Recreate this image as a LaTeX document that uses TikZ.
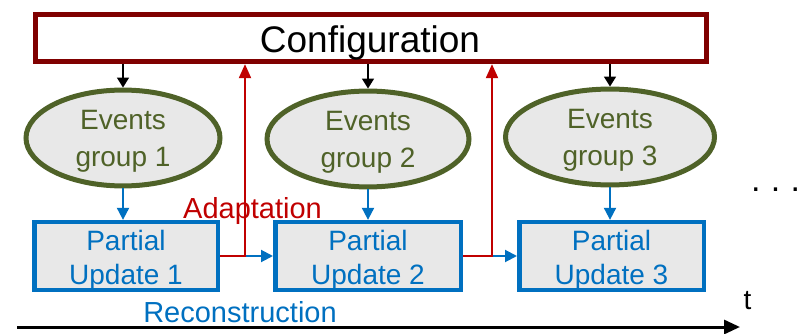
\documentclass[tikz,border=0pt]{standalone}
\usepackage{fontspec}
\setmainfont{Liberation Sans}
\usetikzlibrary{arrows.meta,shapes.geometric}
\definecolor{confred}{RGB}{128,0,0}
\definecolor{adred}{RGB}{192,0,0}
\definecolor{olivegr}{RGB}{79,98,40}
\definecolor{boxblue}{RGB}{0,112,192}
\definecolor{lgray}{RGB}{232,232,232}
\newcommand{\evstrut}{\rule{0pt}{25pt}}
\newcommand{\pustrut}{\rule{0pt}{28pt}}
\tikzset{
  confbox/.style={draw=confred,line width=4.8pt,fill=white,rectangle,inner sep=0pt},
  evell/.style={draw=olivegr,line width=5pt,fill=lgray,ellipse,inner sep=0pt,text=olivegr,align=center,font=\fontsize{28}{37}\selectfont},
  pubox/.style={draw=boxblue,line width=4.5pt,fill=lgray,rectangle,inner sep=0pt,text=boxblue,align=center,font=\fontsize{28}{34}\selectfont},
  blkarr/.style={black,line width=1.6pt,-{Triangle[width=12pt,length=10pt]}},
  bluarr/.style={boxblue,line width=2pt,-{Triangle[width=12pt,length=12pt]}},
  redarr/.style={adred,line width=2pt,-{Triangle[width=12pt,length=14pt]}},
}
\begin{document}
\begin{tikzpicture}[x=1pt,y=-1pt]
\useasboundingbox (0,0) rectangle (800,334);
% configuration
\node[confbox,minimum width=671.5pt,minimum height=47.5pt] (conf) at (371,38) {};
\node[font=\fontsize{37}{40}\selectfont,anchor=base] (conftxt) at (370,53) {Configuration};
% ellipses
\node[evell,minimum width=194pt,minimum height=94pt] (e1) at (123,138) {\evstrut Events\\group 1};
\node[evell,minimum width=202pt,minimum height=93pt] (e2) at (368,139) {\evstrut Events\\group 2};
\node[evell,minimum width=209pt,minimum height=92pt] (e3) at (610,137) {\evstrut Events\\group 3};
% boxes
\node[pubox,minimum width=183.5pt,minimum height=63.5pt] (b1) at (126,256) {\pustrut Partial\\Update 1};
\node[pubox,minimum width=185.5pt,minimum height=63.5pt] (b2) at (368,256) {\pustrut Partial\\Update 2};
\node[pubox,minimum width=184.5pt,minimum height=63.5pt] (b3) at (611.5,256) {\pustrut Partial\\Update 3};
% config -> ellipses
\draw[blkarr] (conf.south -| e1.north) -- (e1.north);
\draw[blkarr] (conf.south -| e2.north) -- (e2.north);
\draw[blkarr] (conf.south -| e3.north) -- (e3.north);
% ellipses -> boxes
\draw[bluarr] (e1.south) -- (e1.south |- b1.north);
\draw[bluarr] (e2.south) -- (e2.south |- b2.north);
\draw[bluarr] (e3.south) -- (e3.south |- b3.north);
% box -> box
\draw[bluarr] (b1.east) -- (b2.west);
\draw[bluarr] (b2.east) -- (b3.west);
% adaptation feedback
\coordinate (r1) at (245,256);
\coordinate (r2) at (492,256);
\draw[redarr] (b1.east) -- (r1) -- (r1 |- conf.south);
\draw[redarr] (b2.east) -- (r2) -- (r2 |- conf.south);
\node[text=adred,font=\fontsize{29}{32}\selectfont,anchor=base] (adapt) at (252.5,218) {Adaptation};
% time axis
\coordinate (ax0) at (17,327);
\coordinate (ax1) at (740,327);
\draw[black,line width=3pt,-{Triangle[width=14pt,length=16pt]}] (ax0) -- (ax1);
\node[text=boxblue,font=\fontsize{29}{32}\selectfont,anchor=base] (recon) at (240,322) {Reconstruction};
\node[font=\fontsize{28}{30}\selectfont,anchor=base] (tlab) at (747.5,309) {t};
\node[font=\fontsize{34}{36}\selectfont,anchor=base west,inner sep=0pt] (dots) at (751,191) {.\hspace{0.3em}.\hspace{0.3em}.};
\end{tikzpicture}
\end{document}
